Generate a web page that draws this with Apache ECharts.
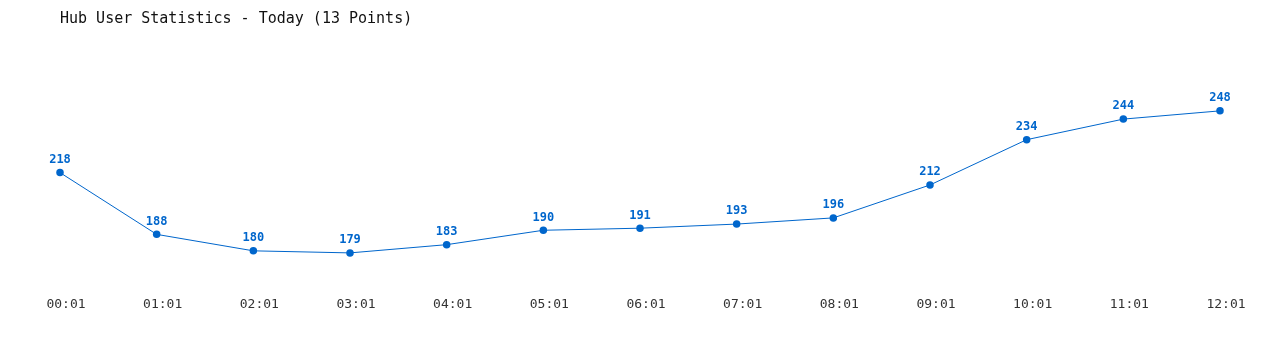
<!DOCTYPE html>
<html><head><meta charset="utf-8">
<script src="https://cdn.jsdelivr.net/npm/echarts@6/dist/echarts.min.js"></script>
<style>html,body{margin:0;padding:0;background:#fff}#c{width:1280px;height:350px}</style>
</head><body><div id="c"></div>
<script>
const categories = ["00:01","01:01","02:01","03:01","04:01","05:01","06:01","07:01","08:01","09:01","10:01","11:01","12:01"];
const users = [218,188,180,179,183,190,191,193,196,212,234,244,248];
const titleText = "Hub User Statistics - Today (13 Points)";
const mono = "'DejaVu Sans Mono', monospace";
const chart = echarts.init(document.getElementById('c'));
chart.setOption({
  animation: false,
  backgroundColor: '#fff',
  title: {text: titleText, left: 55, top: 7, textStyle: {fontFamily: mono, fontSize: 15, fontWeight: 'normal', color: '#111'}},
  grid: {left: 60, right: 60, top: 45, bottom: 58},
  xAxis: {type: 'category', data: categories, boundaryGap: false,
    axisLine: {show: false}, axisTick: {show: false}, splitLine: {show: false},
    axisLabel: {fontFamily: mono, fontSize: 13, color: '#333', margin: 6, padding: [0, 0, 0, 12]}},
  yAxis: {type: 'value', min: 160, max: 280, show: false},
  series: [{type: 'line', data: users, smooth: false, symbol: 'circle', symbolSize: 7.5,
    lineStyle: {width: 1, color: '#0066cc'}, itemStyle: {color: '#0066cc'},
    label: {show: true, position: 'top', distance: 3, fontFamily: mono, fontSize: 12, fontWeight: 'bold', color: '#0066cc'}}]
});
</script></body></html>
